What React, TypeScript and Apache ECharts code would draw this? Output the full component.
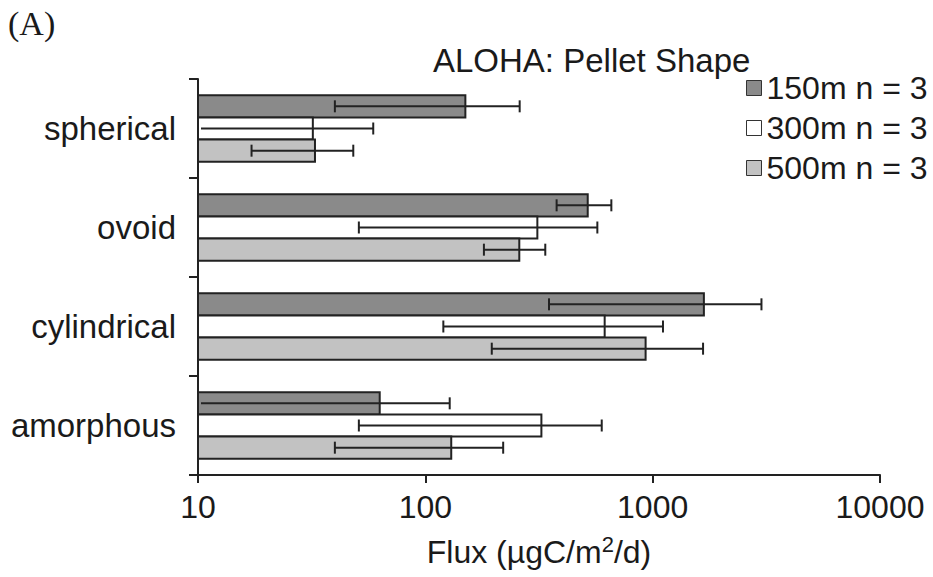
import React, { useEffect, useRef } from 'react';
import * as echarts from 'echarts';

const categories = ['spherical', 'ovoid', 'cylindrical', 'amorphous'];
const seriesNames = ['150m n = 3', '300m n = 3', '500m n = 3'];
const mean150 = [150, 518, 1680, 63];
const sd150 = [110, 140, 1330, 65];
const mean300 = [32, 311, 615, 324];
const sd300 = [27, 260, 495, 273];
const mean500 = [32.7, 259, 931, 130];
const sd500 = [15.5, 78, 735, 90];
const xMin = 10;
const xMax = 10000;
const fills = ['#8a8a8a', '#ffffff', '#c2c2c2'];

export default function App() {
  const ref = useRef<HTMLDivElement>(null);
  useEffect(() => {
    const chart = echarts.init(ref.current!, null, { renderer: 'svg' });
    const means = [mean150, mean300, mean500];
    const sds = [sd150, sd300, sd500];
    const font = "'Liberation Sans', Arial, Helvetica, sans-serif";
    const ink = '#1a1a1a';
    const series = seriesNames.map((name, si) => ({
      type: 'custom',
      name,
      itemStyle: { color: fills[si], borderColor: '#222', borderWidth: 1 },
      encode: { x: 0, y: 1 },
      data: categories.map((c, ci) => [means[si][ci], ci, sds[si][ci]]),
      renderItem: (params: any, api: any) => {
        const v = api.value(0);
        const ci = api.value(1);
        const sd = api.value(2);
        const band = api.size([0, 1])[1];
        const h = band * 0.224;
        const center = api.coord([v, ci]);
        const yc = center[1] + (si - 1) * h;
        const minX = api.coord([xMin, ci])[0];
        const x1 = center[0];
        const lo = v - sd;
        const hi = v + sd;
        const loX = lo > xMin ? api.coord([lo, ci])[0] : minX + 3;
        const hiX = api.coord([hi, ci])[0];
        const ls = { stroke: '#222', lineWidth: 2 };
        const children: any[] = [
          {
            type: 'rect',
            shape: { x: minX, y: yc - h / 2, width: x1 - minX, height: h },
            style: { fill: fills[si], stroke: '#222', lineWidth: 2 },
          },
          { type: 'line', shape: { x1: loX, y1: yc, x2: hiX, y2: yc }, style: ls },
          { type: 'line', shape: { x1: hiX, y1: yc - 6, x2: hiX, y2: yc + 6 }, style: ls },
        ];
        if (lo > xMin) {
          children.push({ type: 'line', shape: { x1: loX, y1: yc - 6, x2: loX, y2: yc + 6 }, style: ls });
        }
        return { type: 'group', children };
      },
    }));

    chart.setOption({
      animation: false,
      backgroundColor: '#ffffff',
      textStyle: { fontFamily: font },
      title: {
        text: 'ALOHA: Pellet Shape',
        left: 433,
        top: 44,
        padding: 0,
        textStyle: { fontSize: 33, fontWeight: 'normal', color: ink, fontFamily: font },
      },
      legend: {
        orient: 'vertical',
        left: 746,
        top: 72,
        padding: 0,
        itemWidth: 15,
        itemHeight: 15,
        itemGap: 8,
        icon: 'rect',
        selectedMode: false,
        textStyle: { fontSize: 32, color: ink, fontFamily: font },
        data: seriesNames.map((n, i) => ({
          name: n,
          itemStyle: { color: fills[i], borderColor: '#333', borderWidth: 1 },
        })),
      },
      graphic: [
        {
          type: 'text',
          left: 8,
          top: 6,
          style: { text: '(A)', font: "34px 'Liberation Serif', 'Times New Roman', serif", fill: ink },
        },
      ],
      grid: { left: 198, right: 53, top: 79, bottom: 102, containLabel: false, outerBoundsMode: 'none' },
      xAxis: {
        type: 'log',
        logBase: 10,
        min: xMin,
        max: xMax,
        axisLine: { show: true, onZero: false, lineStyle: { color: '#222', width: 2 } },
        axisTick: { show: true, length: 8, lineStyle: { color: '#222', width: 2 } },
        minorTick: { show: false },
        splitLine: { show: false },
        axisLabel: {
          fontSize: 32,
          margin: 16,
          color: ink,
          fontFamily: font,
          formatter: (v: number) => String(Math.round(v)),
        },
        name: '{m|Flux (µgC/m}{s|2}{m|/d)}',
        nameLocation: 'middle',
        nameGap: 58,
        nameTextStyle: {
          rich: {
            m: { fontSize: 32, color: ink, fontFamily: font },
            s: { fontSize: 22, color: ink, fontFamily: font, padding: [0, 0, 16, 0] },
          },
        },
      },
      yAxis: {
        type: 'category',
        data: categories,
        inverse: true,
        axisLine: { show: true, onZero: false, lineStyle: { color: '#222', width: 2 } },
        axisTick: { show: true, length: 9, lineStyle: { color: '#222', width: 2 } },
        splitLine: { show: false },
        axisLabel: { fontSize: 33, margin: 22, color: ink, fontFamily: font },
      },
      series,
    } as any);
    return () => chart.dispose();
  }, []);
  return <div ref={ref} style={{ position: 'absolute', left: 0, top: 0, width: 933, height: 577 }} />;
}
